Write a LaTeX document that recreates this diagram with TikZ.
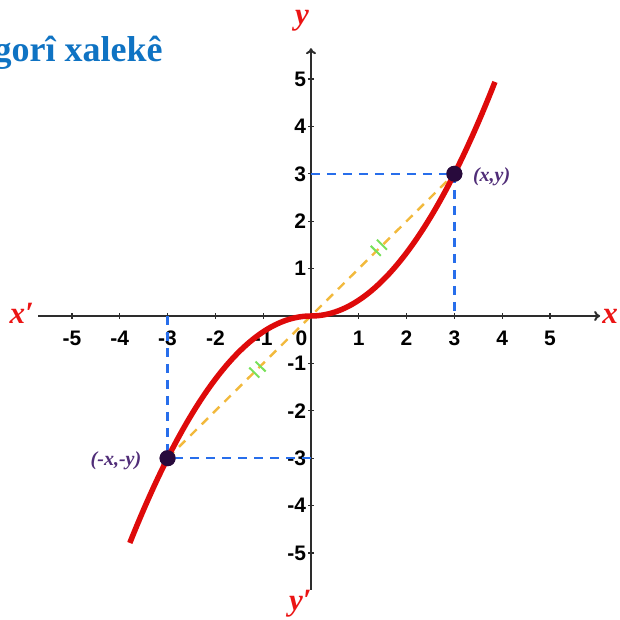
\documentclass[tikz,border=0pt]{standalone}
\usepackage{fontspec}
\setmainfont{Liberation Serif}
\newfontfamily\ticksf{Liberation Sans}
\usetikzlibrary{arrows.meta}
\definecolor{curvered}{RGB}{222,10,10}
\definecolor{axred}{RGB}{235,20,20}
\definecolor{dashblue}{RGB}{40,110,235}
\definecolor{diagorange}{RGB}{242,185,60}
\definecolor{markgreen}{RGB}{120,225,90}
\definecolor{ptpurple}{RGB}{40,10,60}
\definecolor{lblpurple}{RGB}{80,45,120}
\definecolor{titleblue}{RGB}{15,115,195}
\definecolor{axgray}{RGB}{45,45,45}
\begin{document}
\begin{tikzpicture}[x=47.8pt,y=47.4pt,
  axisline/.style={draw=axgray,line width=2pt,-{To[length=6pt,width=10pt]}},
  ticklbl/.style={font=\ticksf\bfseries\fontsize{21}{21}\selectfont,inner sep=0pt},
  axlbl/.style={text=axred,font=\bfseries\itshape\fontsize{31}{31}\selectfont,inner sep=0pt},
  guide/.style={draw=dashblue,line width=2.4pt,dash pattern=on 9pt off 7pt},
  diag/.style={draw=diagorange,line width=2.4pt,dash pattern=on 9pt off 7pt},
  pt/.style={circle,fill=ptpurple,minimum size=16pt,inner sep=0pt},
  ptlbl/.style={text=lblpurple,font=\bfseries\itshape\fontsize{20}{20}\selectfont,inner sep=0pt},
  gmark/.style={draw=markgreen,line width=2pt}]
\useasboundingbox (-6.506,-6.414) rectangle (6.464,6.667);
% title
\node[anchor=base east,text=titleblue,font=\bfseries\fontsize{36}{36}\selectfont,inner sep=0pt] (title) at (-3.10,5.36) {gorî xalekê};
% axes
\coordinate (xl) at (-5.71,0);
\coordinate (xr) at (6.05,0);
\coordinate (yb) at (0,-5.78);
\coordinate (yt) at (0,5.65);
\draw[axisline] (xl) -- (xr);
\draw[axisline] (yb) -- (yt);
\foreach \i in {-5,-4,-3,-2,-1,1,2,3,4,5}{
  \draw[axgray,line width=1.2pt] (\i,-0.06) -- (\i,0.06);
  \draw[axgray,line width=1.2pt] (-0.06,\i) -- (0.06,\i);
  \node[ticklbl] (tx\i) at (\i,-0.47) {\i};
  \node[ticklbl,anchor=east] (ty\i) at (-0.1,\i) {\i};
}
\node[ticklbl] (t0) at (-0.2,-0.47) {0};
\node[axlbl] (lxp) at (-6.05,0.06) {x′};
\node[axlbl] (lx) at (6.26,0.0) {x};
\node[axlbl] (ly) at (-0.19,6.22) {y};
\node[axlbl] (lyp) at (-0.22,-6.06) {y′};
% points
\node[pt] (P) at (3,3) {};
\node[pt] (Q) at (-3,-3) {};
\coordinate (O) at (0,0);
\coordinate (Py) at (0,3);
\coordinate (Px) at (3,0);
\coordinate (Qy) at (0,-3);
\coordinate (Qx) at (-3,0);
% guides
\draw[guide] (Py) -- (P.center);
\draw[guide] (P.center) -- (Px);
\draw[guide] (Qy) -- (Q.center);
\draw[guide] (Qx) -- (Q.center);
\draw[diag] (Q.center) -- (P.center);
% green marks
\foreach \a/\b in {1.42/1.44,-1.12/-1.13}{
  \begin{scope}[shift={(\a,\b)}]
    \draw[gmark] (-0.17,0.04) -- (0.04,-0.17);
    \draw[gmark] (-0.04,0.17) -- (0.17,-0.04);
  \end{scope}
}
% curve
\draw[curvered,line width=5.5pt] plot[domain=-3.79:3.85,samples=120,smooth] (\x,{\x*abs(\x)/3});
\node[pt] at (P) {};
\node[pt] at (Q) {};
\node[ptlbl] (lP) at (3.78,2.93) {(x,y)};
\node[ptlbl] (lQ) at (-4.08,-3.06) {(-x,-y)};
\end{tikzpicture}
\end{document}
